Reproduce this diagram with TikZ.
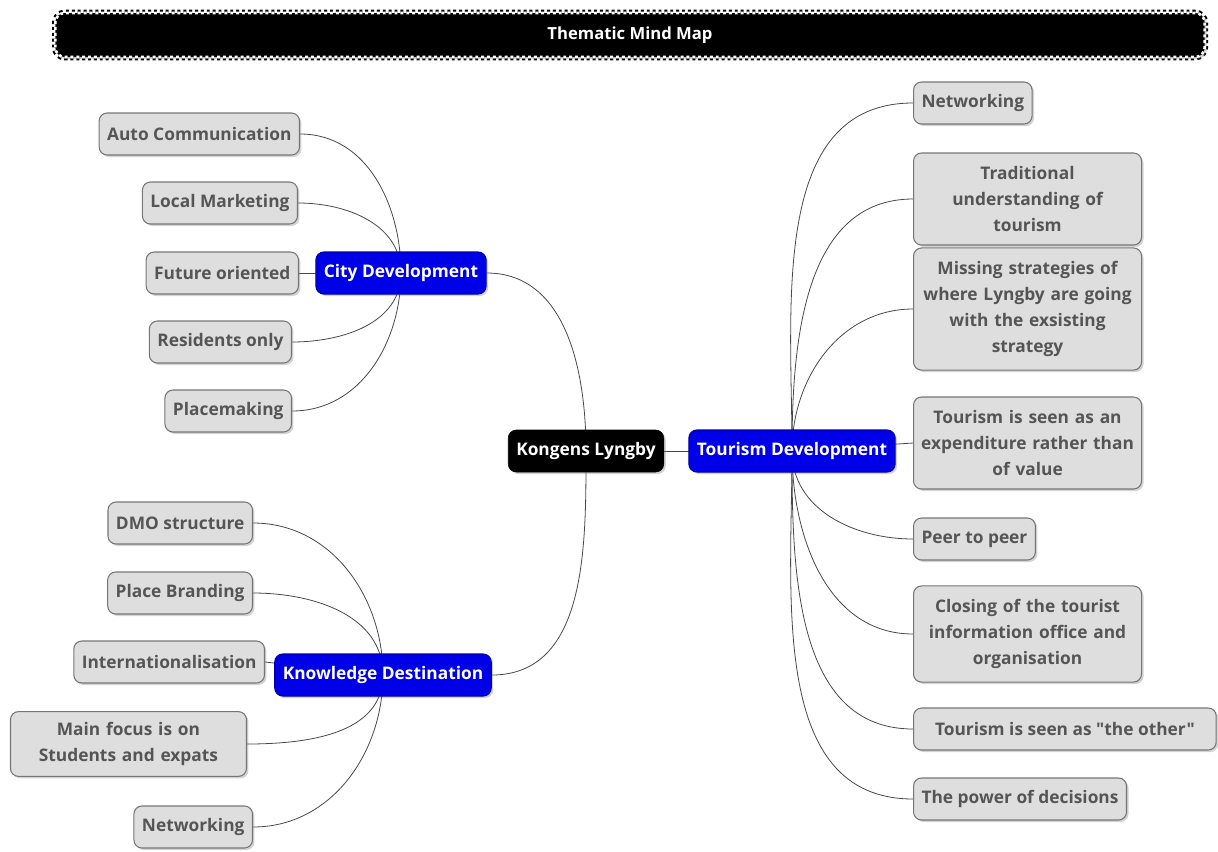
\documentclass[tikz,border=0pt]{standalone}
\usepackage{fontspec}
\setmainfont{Open Sans}[Ligatures=TeXOff]
\usetikzlibrary{
  positioning,
  shadows,
  backgrounds,
  calc
}
\definecolor{leafcolor}{RGB}{222,222,222}
\definecolor{leafline}{RGB}{118,118,118}
\definecolor{leaftext}{RGB}{85,85,85}
\definecolor{branchcolor}{RGB}{0,0,232}
\definecolor{linecol}{RGB}{72,72,72}
\tikzset{
  mmbox/.style={
    rectangle,
    rounded corners=6pt,
    minimum height=31.5pt,
    inner xsep=6pt,
    inner ysep=4pt,
    align=center,
    font=\bfseries\fontsize{13}{19.5}\selectfont,
    drop shadow={opacity=0.35,shadow xshift=1.5pt,shadow yshift=-1.5pt}
  },
  leaf/.style={
    mmbox,
    draw=leafline,
    line width=0.8pt,
    fill=leafcolor,
    text=leaftext
  },
  wideleaf/.style={
    leaf,
    text width=#1,
    inner xsep=3pt,
    inner ysep=10pt
  },
  branch/.style={
    mmbox,
    draw=branchcolor!70!black,
    line width=0.8pt,
    fill=branchcolor,
    text=white
  },
  root/.style={
    mmbox,
    draw=black,
    fill=black,
    text=white
  },
  banner/.style={
    rectangle,
    rounded corners=7pt,
    minimum width=862pt,
    minimum height=33pt,
    fill=black,
    text=white,
    font=\bfseries\fontsize{12.5}{15}\selectfont,
    preaction={draw=black,line width=5pt},
    draw=white,
    line width=2pt,
    dash pattern=on 2.2pt off 2.2pt,
    drop shadow={opacity=0.35,shadow xshift=1.5pt,shadow yshift=-1.5pt}
  },
  link/.style={
    draw=linecol,
    line width=0.6pt
  }
}

\begin{document}
\begin{tikzpicture}[x=0.75pt,y=-0.75pt]

  \useasboundingbox (0,0) rectangle (1218,851);

  % Title
  \node[banner] (title) at (630,35) {Thematic Mind Map};

  % Central topic and branches
  \node[root] (kl) at (586,451) {Kongens Lyngby};
  \node[branch] (tourdev) at (792,451) {Tourism Development};
  \node[branch] (citydev) at (401,273) {City Development};
  \node[branch] (knowdest) at (383,675) {Knowledge Destination};

  % City Development leaves
  \node[leaf, anchor=east] (autocom) at (300,134) {Auto Communication};
  \node[leaf, anchor=east] (localmkt) at (298,203) {Local Marketing};
  \node[leaf, anchor=east] (future) at (299,273) {Future oriented};
  \node[leaf, anchor=east] (residents) at (292,342) {Residents only};
  \node[leaf, anchor=east] (placemk) at (292,411) {Placemaking};

  % Knowledge Destination leaves
  \node[leaf, anchor=east] (dmo) at (253,523) {DMO structure};
  \node[leaf, anchor=east] (branding) at (253,593) {Place Branding};
  \node[leaf, anchor=east] (intl) at (265,662) {Internationalisation};
  \node[wideleaf=171pt, inner ysep=8pt, anchor=east] (focus) at (247,744) {Main focus is on\\Students and expats};
  \node[leaf, anchor=east] (knownet) at (253,827) {Networking};

  % Tourism Development leaves
  \node[leaf, anchor=west] (tnet) at (913,103) {Networking};
  \node[wideleaf=165pt, anchor=west] (tradition) at (913,199) {Traditional\\understanding of\\tourism};
  \node[wideleaf=165pt, anchor=west] (missing) at (913,309) {Missing strategies of\\where Lyngby are going\\with the exsisting\\strategy};
  \node[wideleaf=165pt, anchor=west] (expend) at (913,443) {Tourism is seen as an\\expenditure rather than\\of value};
  \node[leaf, anchor=west] (peer) at (913,539) {Peer to peer};
  \node[wideleaf=165pt, anchor=west] (closing) at (913,634) {Closing of the tourist\\information office and\\organisation};
  \node[leaf, anchor=west, minimum width=227pt] (other) at (913,729) {Tourism is seen as "the other"};
  \node[leaf, anchor=west] (power) at (913,799) {The power of decisions};

  % Connectors (behind the boxes)
  \begin{pgfonlayer}{background}
    \draw[link] (kl.center) to[out=90,in=0] (citydev.east);
    \draw[link] (kl.center) to[out=-90,in=0] (knowdest.east);
    \draw[link] (kl.center) -- (tourdev.center);

    \draw[link] (citydev.center) to[out=90,in=0] (autocom.east);
    \draw[link] (citydev.center) to[out=90,in=0] (localmkt.east);
    \draw[link] (citydev.center) -- (future.east);
    \draw[link] (citydev.center) to[out=-90,in=0] (residents.east);
    \draw[link] (citydev.center) to[out=-90,in=0] (placemk.east);

    \draw[link] (knowdest.center) to[out=90,in=0] (dmo.east);
    \draw[link] (knowdest.center) to[out=90,in=0] (branding.east);
    \draw[link] (knowdest.center) -- (intl.east);
    \draw[link] (knowdest.center) to[out=-90,in=0] (focus.east);
    \draw[link] (knowdest.center) to[out=-90,in=0] (knownet.east);

    \draw[link] (tourdev.center) to[out=90,in=180] (tnet.west);
    \draw[link] (tourdev.center) to[out=90,in=180] (tradition.west);
    \draw[link] (tourdev.center) to[out=90,in=180] (missing.west);
    \draw[link] (tourdev.center) -- (expend.west);
    \draw[link] (tourdev.center) to[out=-90,in=180] (peer.west);
    \draw[link] (tourdev.center) to[out=-90,in=180] (closing.west);
    \draw[link] (tourdev.center) to[out=-90,in=180] (other.west);
    \draw[link] (tourdev.center) to[out=-90,in=180] (power.west);
  \end{pgfonlayer}

\end{tikzpicture}
\end{document}
